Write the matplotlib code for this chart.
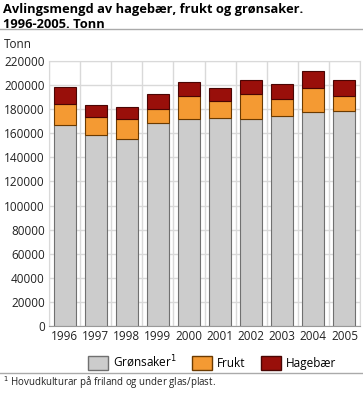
import numpy as np
import matplotlib.pyplot as plt
from matplotlib.patches import Patch
from matplotlib.lines import Line2D

plt.rcParams['font.family'] = ['Open Sans', 'DejaVu Sans']

years = ['1996', '1997', '1998', '1999', '2000', '2001', '2002', '2003', '2004', '2005']
gronsaker = [167000, 158200, 155400, 168200, 171500, 172800, 171500, 174000, 177800, 178200]
frukt = [17700, 15500, 16600, 12100, 19800, 14000, 20700, 14700, 19700, 13100]
hagebaer = [13400, 10000, 10000, 11900, 10900, 11000, 12400, 11800, 14400, 12600]

col_gr = '#cccccc'
col_fr = '#f49a33'
col_hb = '#990f0a'

fig = plt.figure(figsize=(3.63, 3.95), dpi=100)
ax = fig.add_axes([49 / 363, 1 - 326 / 395, 311 / 363, 265 / 395])

x = np.arange(len(years))
gr = np.array(gronsaker)
fr = np.array(frukt)
hb = np.array(hagebaer)
w = 0.71
ax.bar(x, gr, w, color=col_gr, edgecolor='#707070', linewidth=0.8, zorder=3)
ax.bar(x, fr, w, bottom=gr, color=col_fr, edgecolor='#6b3a00', linewidth=0.8, zorder=3)
ax.bar(x, hb, w, bottom=gr + fr, color=col_hb, edgecolor='#4a0503', linewidth=0.8, zorder=3)

ax.set_xlim(-0.5, len(years) - 0.5)
ax.set_ylim(0, 220000)
ax.set_yticks(np.arange(0, 220001, 20000))
ax.set_yticklabels([str(v) for v in range(0, 220001, 20000)], fontsize=8.5, color='#222222')
ax.set_xticks(x)
ax.set_xticklabels(years, fontsize=8.5, color='#222222')
ax.set_xticks(np.arange(-0.5, len(years), 1), minor=True)
ax.grid(axis='y', color='#d9d9d9', linewidth=1, zorder=0)
ax.grid(axis='x', which='minor', color='#d9d9d9', linewidth=1, zorder=0)
ax.tick_params(axis='both', which='both', length=0, pad=3)
for s in ax.spines.values():
    s.set_color('#d9d9d9')
ax.spines['bottom'].set_color('#999999')

fig.text(3 / 363, 1 - 3 / 395, 'Avlingsmengd av hagebær, frukt og grønsaker.\n1996-2005. Tonn',
         fontsize=9.3, fontweight='bold', va='top', ha='left', linespacing=1.2)
fig.add_artist(Line2D([0, 1], [1 - 29 / 395, 1 - 29 / 395], color='#aaaaaa', linewidth=1))
fig.text(4 / 363, 1 - 45 / 395, 'Tonn', fontsize=8.5, va='center', ha='left', color='#222222')

handles = [Patch(facecolor=col_gr, edgecolor='#707070', label='Grønsaker$^1$'),
           Patch(facecolor=col_fr, edgecolor='#6b3a00', label='Frukt'),
           Patch(facecolor=col_hb, edgecolor='#4a0503', label='Hagebær')]
fig.legend(handles=handles, loc='center', bbox_to_anchor=(0.584, 1 - 362 / 395), ncol=3,
           frameon=False, fontsize=8.5, handlelength=1.7, handleheight=1.5, columnspacing=1.3,
           handletextpad=0.4)

fig.add_artist(Line2D([0, 1], [1 - 373 / 395, 1 - 373 / 395], color='#aaaaaa', linewidth=1))
fig.text(3 / 363, 1 - 383 / 395, '$^1$ Hovudkulturar på friland og under glas/plast.', fontsize=7,
         va='center', ha='left', color='#222222')

fig.savefig('out.png', dpi=100)
